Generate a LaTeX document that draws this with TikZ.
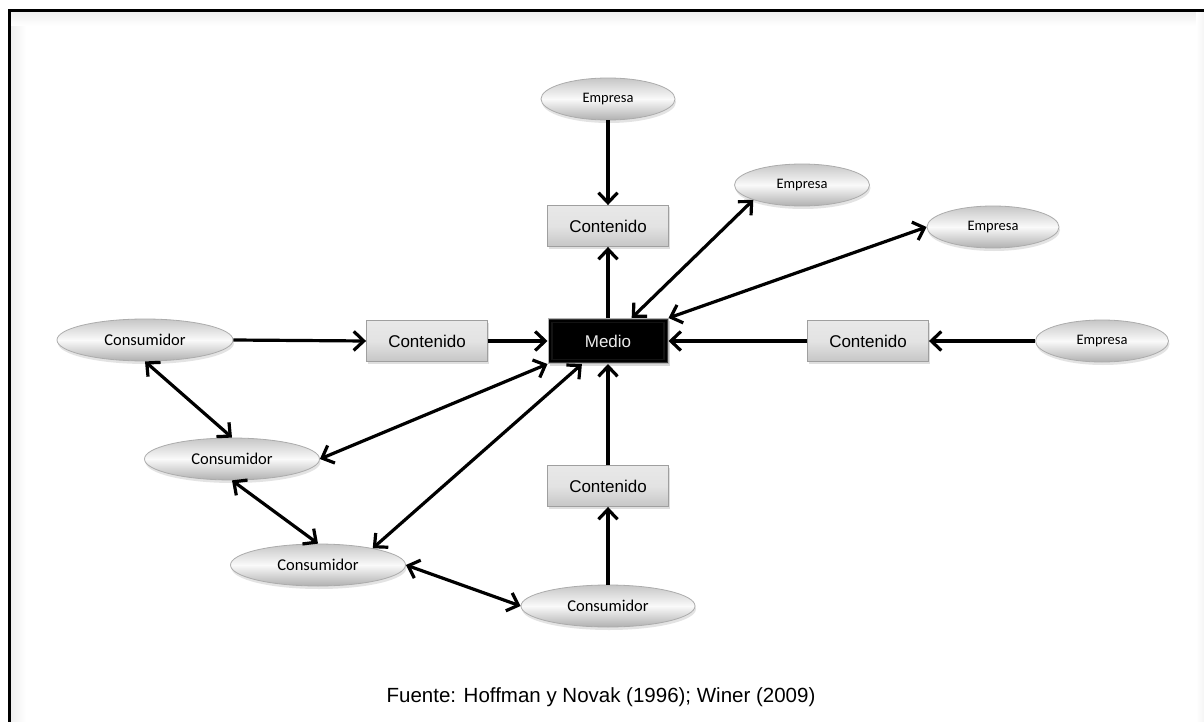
\documentclass[tikz,border=0pt]{standalone}
\usepackage{fontspec}
\setmainfont{Liberation Sans}
\newfontfamily\calib{Carlito}
\usetikzlibrary{shapes.geometric,arrows.meta,shadows,calc}

\begin{document}
\begin{tikzpicture}[x=1pt,y=-1pt,
  elli/.style={ellipse, draw=gray!65, line width=0.8pt,
    top color=gray!45, bottom color=gray!62, middle color=gray!4,
    minimum height=42pt, inner sep=0pt,
    drop shadow={opacity=0.22, shadow xshift=1pt, shadow yshift=-3pt}},
  emp/.style={elli, font=\calib\fontsize{14.5}{16}\selectfont},
  cons/.style={elli, font=\calib\fontsize{16.5}{18}\selectfont},
  cbox/.style={rectangle, draw=gray!75, line width=0.9pt,
    top color=gray!18, bottom color=gray!45, middle color=gray!22,
    minimum width=121pt, minimum height=41pt, inner sep=0pt,
    font=\fontsize{17}{20}\selectfont,
    drop shadow={opacity=0.25, shadow xshift=1.5pt, shadow yshift=-2pt}},
  mbox/.style={rectangle, draw=gray!60, line width=1pt,
    fill=black, text=white!92!black,
    minimum width=120pt, minimum height=45pt, inner sep=0pt,
    font=\fontsize{17}{20}\selectfont,
    path picture={
      \draw[gray!45!black, line width=2.5pt]
        (path picture bounding box.north west) rectangle (path picture bounding box.south east);
      \draw[black!85!gray, line width=1.2pt]
        ([shift={(4pt,-4pt)}]path picture bounding box.north west)
        rectangle ([shift={(-4pt,4pt)}]path picture bounding box.south east);
    },
    drop shadow={opacity=0.3, shadow xshift=1.5pt, shadow yshift=-2pt}},
  tip/.tip={Straight Barb[length=10pt,width=19pt]},
  one/.style={line width=3.2pt, -tip},
  two/.style={line width=3.2pt, tip-tip}
]
\useasboundingbox (0,0) rectangle (1204,722);
\fill[white] (0,0) rectangle (1204,722);

% soft inner shade along the frame
\shade[left color=gray!12, right color=white] (11,12) rectangle (26,722);
\shade[top color=gray!12, bottom color=white] (11,12) rectangle (1204,26);
\shade[left color=white, right color=gray!8] (1196,12) rectangle (1204,722);

% frame
\draw[line width=3pt] (9.5,722) -- (9.5,10.5) -- (1204,10.5);

% nodes
\node[emp, minimum width=134pt] (e1) at (608,99) {Empresa};
\node[cbox] (ct) at (608,226) {Contenido};
\node[emp, minimum width=135pt] (e2) at (802,185) {Empresa};
\node[emp, minimum width=132pt] (e3) at (993,227) {Empresa};
\node[mbox] (md) at (608,341) {Medio};
\node[cbox] (cl) at (427,341) {Contenido};
\node[cbox] (cr) at (868,341) {Contenido};
\node[emp, minimum width=133pt] (e4) at (1102,341) {Empresa};
\node[cons, minimum width=176pt] (c1) at (145,340) {Consumidor};
\node[cons, minimum width=175pt] (c2) at (232,459) {Consumidor};
\node[cons, minimum width=175pt] (c3) at (318,565) {Consumidor};
\node[cons, minimum width=174pt] (c4) at (608,606) {Consumidor};
\node[cbox] (cb) at (608,486) {Contenido};

% connectors
\draw[one] (e1.south) -- (ct.north);
\draw[one] (md.north) -- (ct.south);
\draw[two] (e2.197) -- (md);
\draw[two] (e3.west) -- (md.north east);
\draw[one] (c1.east) -- (cl.west);
\draw[one] (cl.east) -- (md.west);
\draw[one] (e4.west) -- (cr.east);
\draw[one] (cr.west) -- (md.east);
\draw[two] (c1.south) -- (c2.north);
\draw[two] (c2.east) -- (md.south west);
\draw[two] (c2.south) -- (c3.north);
\draw[two] (c3.17) -- (md);
\draw[two] (c3.east) -- (c4.west);
\draw[one] (c4.north) -- (cb.south);
\draw[one] (cb.north) -- (md.south);

% source
\node[font=\fontsize{20.5}{24}\selectfont] (src) at (601,697)
  {Fuente: Hoffman y Novak (1996); Winer (2009)};
\end{tikzpicture}
\end{document}
